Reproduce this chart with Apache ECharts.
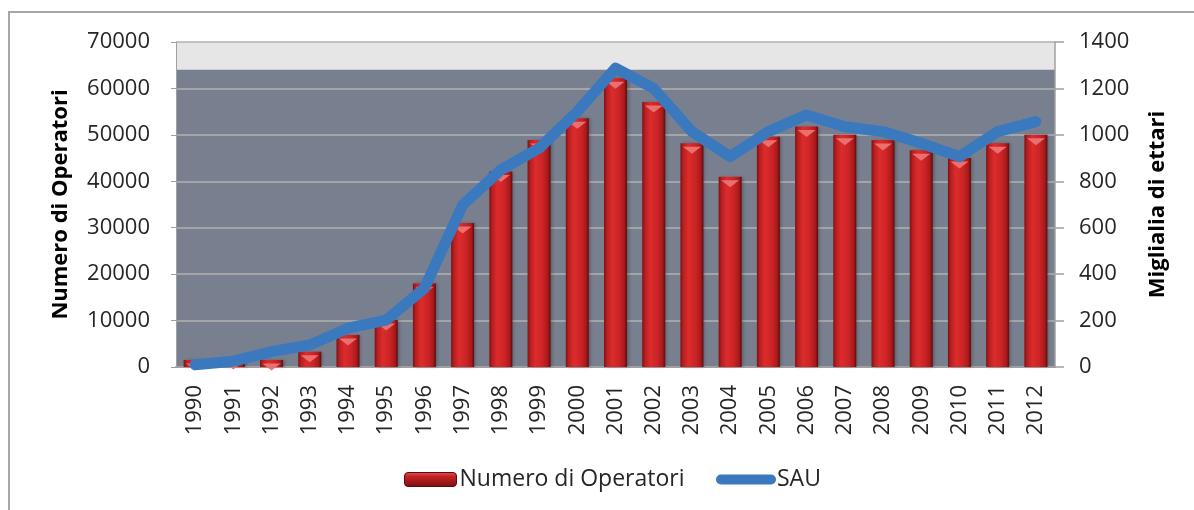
<!DOCTYPE html>
<html>
<head>
<meta charset="utf-8">
<style>
  html, body { margin: 0; padding: 0; background: #ffffff; }
  #chart { width: 1194px; height: 510px; }
</style>
<script src="https://cdn.jsdelivr.net/npm/echarts@6/dist/echarts.min.js"></script>
</head>
<body>
<div id="chart"></div>
<script>
// Years on the category axis
const anni = ['1990','1991','1992','1993','1994','1995','1996','1997','1998','1999','2000',
              '2001','2002','2003','2004','2005','2006','2007','2008','2009','2010','2011','2012'];

// Number of operators (left axis)
const operatori = [1500, 1700, 1500, 3300, 6900, 10100, 18000, 31000, 42100, 48900, 53600,
                   62200, 57100, 48200, 41000, 49600, 51800, 50000, 48900, 46700, 45000, 48200, 50000];

// SAU, thousands of hectares (right axis)
const sau = [10, 25, 66, 95, 167, 202, 339, 698, 849, 942, 1100,
             1287, 1200, 1014, 906, 1014, 1086, 1035, 1014, 964, 906, 1014, 1057];

// Tick settings for the two value axes
const sinistraMax = 70000, sinistraPasso = 10000;
const destraMax = 1400, destraPasso = 200;
// Height of the back wall in left-axis units
const paretAltezza = 64000;

const FONT = '"Open Sans", sans-serif';
const plain = v => String(v);

const chart = echarts.init(document.getElementById('chart'), null, { renderer: 'canvas' });

const barColor = new echarts.graphic.LinearGradient(0, 0, 1, 0, [
  { offset: 0, color: '#7e1012' },
  { offset: 0.12, color: '#b81e20' },
  { offset: 0.35, color: '#dc2c2c' },
  { offset: 0.65, color: '#cc2426' },
  { offset: 0.88, color: '#a81a1c' },
  { offset: 1, color: '#5e0a0a' }
]);
const legendBarColor = new echarts.graphic.LinearGradient(0, 0, 0, 1, [
  { offset: 0, color: '#e25a5a' },
  { offset: 0.3, color: '#c42224' },
  { offset: 1, color: '#7a1012' }
]);

const option = {
  animation: false,
  backgroundColor: '#ffffff',
  textStyle: { fontFamily: FONT },
  graphic: [{
    type: 'rect',
    silent: true,
    shape: { x: 9, y: 12, width: 1400, height: 700 },
    style: { fill: 'none', stroke: '#a6a6a6', lineWidth: 2 }
  }],
  grid: {
    left: 176, right: 139, top: 42, bottom: 143,
    show: true, backgroundColor: '#e6e6e6', borderWidth: 0
  },
  legend: [{
    data: [{ name: 'Numero di Operatori', itemStyle: { color: legendBarColor, borderColor: '#5a0a0a', borderWidth: 1 } }],
    left: 404, top: 468, padding: 0,
    itemWidth: 52, itemHeight: 14, itemGap: 4,
    textStyle: { fontFamily: FONT, fontSize: 23, color: '#262626', padding: [0, 0, 0, -2] }
  }, {
    data: [{ name: 'SAU', icon: 'path://M5,0 L55,0 A5,5 0 0 1 55,10 L5,10 A5,5 0 0 1 5,0 Z', itemStyle: { color: '#3b79be' } }],
    left: 716, top: 468, padding: 0,
    itemWidth: 60, itemHeight: 10, itemGap: 4,
    textStyle: { fontFamily: FONT, fontSize: 23, color: '#262626', padding: [0, 0, 0, -4] }
  }],
  xAxis: {
    type: 'category',
    data: anni,
    z: 1,
    axisLine: { show: true, lineStyle: { color: '#a0a0a0', width: 2 } },
    axisTick: { show: false },
    axisLabel: { rotate: 90, margin: 18, fontFamily: FONT, fontSize: 22, color: '#262626' },
    splitLine: { show: false }
  },
  yAxis: [{
    type: 'value',
    min: 0, max: sinistraMax, interval: sinistraPasso,
    z: 1,
    name: 'Numero di Operatori',
    nameLocation: 'middle', nameGap: 104, nameRotate: 90,
    nameTextStyle: { fontFamily: FONT, fontSize: 22, fontWeight: 'bold', color: '#000000' },
    axisLine: { show: true, lineStyle: { color: '#a0a0a0', width: 1 } },
    axisTick: { show: true, length: 5, lineStyle: { color: '#a0a0a0' } },
    axisLabel: { margin: 26, fontFamily: FONT, fontSize: 22, color: '#262626', formatter: plain },
    splitLine: { show: true, lineStyle: { color: '#b2b2b2', width: 1.5 } }
  }, {
    type: 'value',
    min: 0, max: destraMax, interval: destraPasso,
    z: 1,
    name: 'Miglialia di ettari',
    nameLocation: 'middle', nameGap: 92, nameRotate: 90,
    nameTextStyle: { fontFamily: FONT, fontSize: 22, fontWeight: 'bold', color: '#000000' },
    axisLine: { show: true, lineStyle: { color: '#a0a0a0', width: 1.5 } },
    axisTick: { show: true, length: 9, lineStyle: { color: '#a0a0a0', width: 1.5 } },
    axisLabel: { margin: 24, fontFamily: FONT, fontSize: 22, color: '#262626', formatter: plain },
    splitLine: { show: false }
  }],
  series: [{
    // back wall of the plot
    type: 'line',
    name: 'parete',
    data: [],
    z: 0,
    silent: true,
    markArea: {
      silent: true,
      z: 0,
      itemStyle: { color: '#78808f' },
      data: [[{ yAxis: 0 }, { yAxis: paretAltezza }]]
    }
  }, {
    type: 'bar',
    name: 'Numero di Operatori',
    yAxisIndex: 0,
    data: operatori,
    barWidth: 23,
    z: 2,
    itemStyle: { color: barColor, shadowColor: 'rgba(0,0,0,0.25)', shadowBlur: 3, shadowOffsetX: 2 }
  }, {
    // bevelled cap on top of each column
    type: 'pictorialBar',
    name: 'cap',
    yAxisIndex: 0,
    data: operatori,
    symbol: 'path://M0,0 L20,0 L10,7 Z',
    symbolSize: [18, 7],
    symbolPosition: 'end',
    symbolOffset: [0, '50%'],
    z: 2.5,
    silent: true,
    itemStyle: { color: '#ea7070' }
  }, {
    type: 'line',
    name: 'SAU',
    yAxisIndex: 1,
    data: sau,
    z: 3,
    symbol: 'none',
    showSymbol: false,
    lineStyle: { color: '#3b79be', width: 11, cap: 'round', join: 'round' },
    itemStyle: { color: '#3b79be' }
  }]
};

chart.setOption(option);
</script>
</body>
</html>
